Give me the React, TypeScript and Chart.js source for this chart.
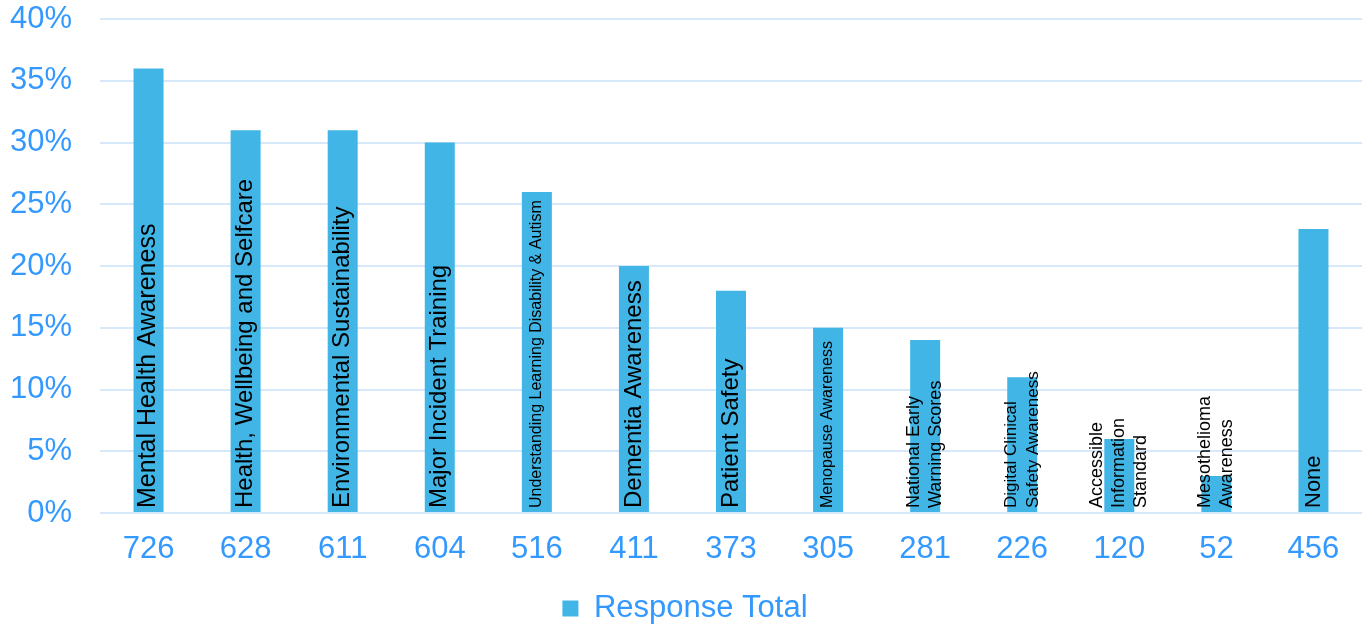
import React, { useEffect, useRef } from "react";
import { Chart, registerables } from "chart.js";

Chart.register(...registerables);

const responseTotals = ["726", "628", "611", "604", "516", "411", "373", "305", "281", "226", "120", "52", "456"];
const topicLabels: string[][] = [
  ["Mental Health Awareness"],
  ["Health, Wellbeing and Selfcare"],
  ["Environmental Sustainability"],
  ["Major Incident Training"],
  ["Understanding Learning Disability & Autism"],
  ["Dementia Awareness"],
  ["Patient Safety"],
  ["Menopause Awareness"],
  ["National Early", "Warning Scores"],
  ["Digital Clinical", "Safety Awareness"],
  ["Accessible", "Information", "Standard"],
  ["Mesothelioma", "Awareness"],
  ["None"],
];
const percentValues = [36, 31, 31, 30, 26, 20, 18, 15, 14, 11, 6, 3, 23];
const seriesName = "Response Total";
const labelFontSizes = [25, 24, 24, 24, 16, 24, 24, 16, 18, 17, 18, 18, 22];

const BAR_COLOR = "#41B6E6";
const TEXT_BLUE = "#3399FF";
const GRID_COLOR = "#D6E8FA";
const FONT = "'Liberation Sans', Arial, sans-serif";

const barLabelPlugin = {
  id: "barLabels",
  afterDatasetsDraw(chart: any) {
    const ctx = chart.ctx;
    const meta = chart.getDatasetMeta(0);
    meta.data.forEach((bar: any, i: number) => {
      const lines = topicLabels[i];
      const size = labelFontSizes[i];
      const lineH = size >= 22 ? size * 1.1 : 22;
      ctx.save();
      ctx.translate(bar.x, bar.base - 4);
      ctx.rotate(-Math.PI / 2);
      ctx.font = `${size}px ${FONT}`;
      ctx.fillStyle = "#000000";
      ctx.textAlign = "left";
      ctx.textBaseline = "middle";
      const n = lines.length;
      lines.forEach((line, j) => {
        ctx.fillText(line, 0, (j - (n - 1) / 2) * lineH);
      });
      ctx.restore();
    });
  },
};

export default function App() {
  const canvasRef = useRef<HTMLCanvasElement>(null);

  useEffect(() => {
    const chart = new Chart(canvasRef.current!, {
      type: "bar",
      data: {
        labels: responseTotals,
        datasets: [
          {
            label: seriesName,
            data: percentValues,
            backgroundColor: BAR_COLOR,
            borderWidth: 0,
            categoryPercentage: 1,
            barPercentage: 0.309,
          },
        ],
      },
      options: {
        responsive: false,
        animation: false,
        layout: { padding: { left: 8, right: 8, top: 19, bottom: -10 } },
        font: { family: FONT },
        scales: {
          x: {
            grid: { display: false, drawTicks: false },
            border: { display: false },
            ticks: {
              color: TEXT_BLUE,
              font: { size: 31, family: FONT },
              padding: 18,
              maxRotation: 0,
            },
            afterFit(scale: any) {
              scale.height = 77;
            },
          },
          y: {
            min: 0,
            max: 40,
            grid: { color: GRID_COLOR, lineWidth: 2, drawTicks: false },
            border: { display: false },
            ticks: {
              stepSize: 5,
              color: TEXT_BLUE,
              font: { size: 31, family: FONT },
              padding: 28,
              callback: (v: any) => `${v}%`,
            },
            afterFit(scale: any) {
              scale.width = 92;
              scale.paddingTop = 0;
              scale.paddingBottom = 0;
            },
          },
        },
        plugins: {
          legend: {
            position: "bottom",
            labels: {
              color: TEXT_BLUE,
              font: { size: 31, family: FONT },
              boxWidth: 16,
              boxHeight: 16,
              padding: 3,
            },
          },
          tooltip: { enabled: false },
        },
      },
      plugins: [barLabelPlugin],
    });
    return () => chart.destroy();
  }, []);

  return (
    <div style={{ position: "fixed", left: 0, top: 0, width: 1370, height: 624, background: "#ffffff" }}>
      <canvas ref={canvasRef} width={1370} height={624} />
    </div>
  );
}
